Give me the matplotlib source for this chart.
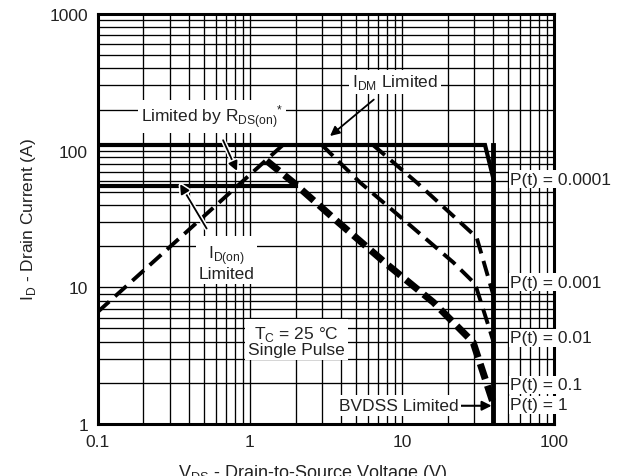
import matplotlib
matplotlib.use("Agg")
import matplotlib.pyplot as plt
import matplotlib.patheffects as pe
from matplotlib.ticker import LogLocator, FixedLocator, FixedFormatter

plt.rcParams["font.family"] = ["Liberation Sans", "DejaVu Sans"]
plt.rcParams["mathtext.fontset"] = "custom"
plt.rcParams["mathtext.rm"] = "Liberation Sans"

# limits
idm = 110        # I_DM limited (A)
id_on = 55       # I_D(on) limited (A)
bvdss = 40       # BVDSS limited (V)

# R_DS(on) limited line
rds_v = [0.1, 1.65]
rds_i = [6.6, idm]

# I_D(on) limited horizontal
idon_v = [0.1, 2.0]
idon_i = [id_on, id_on]

# P(t) = 0.0001 (solid): I_DM line, corner, BVDSS line
p4_v = [0.1, 35.2, bvdss]
p4_i = [idm, idm, 62]
bv_v = [bvdss, bvdss]
bv_i = [idm, 1]

# P(t) = 0.001
p3_v = [6.46, 12.5, 31.0, bvdss]
p3_i = [idm, 58.6, 23.2, 8.7]

# P(t) = 0.01
p2_v = [2.98, 5.3, 10.75, 21.8, 30.3, bvdss]
p2_i = [idm, 58.6, 29.9, 15.2, 10.6, 4.0]

# P(t) = 0.1 and 1 (overlapping, drawn thick)
p1_v = [1.29, 1.93, 3.82, 7.94, 16.1, 29.4, bvdss]
p1_i = [84.4, 58.6, 29.9, 14.8, 7.77, 3.96, 1.4]

pt_labels = ["P(t) = 0.0001", "P(t) = 0.001", "P(t) = 0.01", "P(t) = 0.1", "P(t) = 1"]
pt_label_i = [62, 10.9, 4.26, 1.93, 1.38]

x_ticks = [0.1, 1, 10, 100]
y_ticks = [1, 10, 100, 1000]

fig = plt.figure(figsize=(6.25, 4.77), dpi=100)
ax = fig.add_axes([0.1563, 0.109, 0.7301, 0.8596])
ax.set_xscale("log")
ax.set_yscale("log")
ax.set_xlim(0.1, 100)
ax.set_ylim(1, 1000)

ax.xaxis.set_major_locator(FixedLocator(x_ticks))
ax.xaxis.set_major_formatter(FixedFormatter(["0.1", "1", "10", "100"]))
ax.yaxis.set_major_locator(FixedLocator(y_ticks))
ax.yaxis.set_major_formatter(FixedFormatter(["1", "10", "100", "1000"]))
ax.xaxis.set_minor_locator(LogLocator(base=10, subs=range(2, 10)))
ax.yaxis.set_minor_locator(LogLocator(base=10, subs=range(2, 10)))
ax.xaxis.set_minor_formatter(plt.NullFormatter())
ax.yaxis.set_minor_formatter(plt.NullFormatter())
ax.tick_params(which="both", length=0, labelsize=12.5, colors="#222222", pad=7)
ax.grid(True, which="both", color="black", linewidth=0.95)
ax.set_axisbelow(True)
for s in ax.spines.values():
    s.set_linewidth(2.2)

ax.set_ylabel("I$_{\\mathregular{D}}$ - Drain Current (A)", fontsize=12.5, color="#222222", labelpad=8)
# x label sits at the bottom edge, as in the reference
fig.text(0.5, 0.029, "V$_{\\mathregular{DS}}$ - Drain-to-Source Voltage (V)", ha="center", va="top",
         fontsize=13, color="#222222")

ax.plot(p4_v, p4_i, color="black", lw=3, solid_joinstyle="miter", zorder=4)
ax.plot(bv_v, bv_i, color="black", lw=3.5, zorder=4)
ax.plot(idon_v, idon_i, color="black", lw=3, zorder=4)
ax.plot(rds_v, rds_i, color="black", lw=2.8, dashes=(4.0, 2.0), zorder=4)
ax.plot(p3_v, p3_i, color="black", lw=2.8, dashes=(4.0, 2.0), zorder=4)
ax.plot(p2_v, p2_i, color="black", lw=2.8, dashes=(4.0, 2.0), zorder=4)
ax.plot(p1_v, p1_i, color="black", lw=5, dashes=(2.3, 1.0), zorder=4)

box = dict(facecolor="white", edgecolor="none", pad=2)
tc = "#222222"
halo = [pe.Stroke(linewidth=3.5, foreground="white"), pe.Normal()]

ax.annotate("I$_{\\mathregular{DM}}$ Limited", xy=(3.37, 128), xytext=(9.0, 318),
            ha="center", va="center", fontsize=12.5, color=tc, bbox=box, zorder=6,
            arrowprops=dict(arrowstyle="-|>", color="black", lw=1.3, mutation_scale=14,
                            shrinkA=6, shrinkB=0))
ax.annotate("Limited by R$_{\\mathregular{DS(on)}}$$^{\\mathregular{*}}$", xy=(0.824, 71), xytext=(0.566, 179),
            ha="center", va="center", fontsize=12.5, color=tc, bbox=box, zorder=6,
            arrowprops=dict(arrowstyle="-|>", color="black", lw=1.3, mutation_scale=14,
                            shrinkA=6, shrinkB=0, path_effects=halo))
ax.annotate("I$_{\\mathregular{D(on)}}$\nLimited", xy=(0.348, 57), xytext=(0.705, 15.3),
            ha="center", va="center", fontsize=12.5, color=tc, bbox=box, zorder=6,
            linespacing=0.95,
            arrowprops=dict(arrowstyle="-|>", color="black", lw=1.3, mutation_scale=14,
                            shrinkA=6, shrinkB=0, path_effects=halo))
ax.text(2.03, 4.07, "T$_{\\mathregular{C}}$ = 25 °C\nSingle Pulse", ha="center", va="center",
        fontsize=12.5, color=tc, bbox=box, zorder=6, linespacing=0.95)
ax.annotate("BVDSS Limited", xy=(38.9, 1.36), xytext=(23.5, 1.36),
            ha="right", va="center", fontsize=12.5, color=tc, bbox=box, zorder=6,
            arrowprops=dict(arrowstyle="-|>", color="black", lw=1.5, mutation_scale=14,
                            shrinkA=0, shrinkB=0))

for lab, yi in zip(pt_labels, pt_label_i):
    ax.text(51.4, yi, lab, ha="left", va="center", fontsize=12.5, color=tc,
            bbox=dict(facecolor="white", edgecolor="none", pad=1), zorder=6, clip_on=False)

fig.savefig("out.png", dpi=100)
